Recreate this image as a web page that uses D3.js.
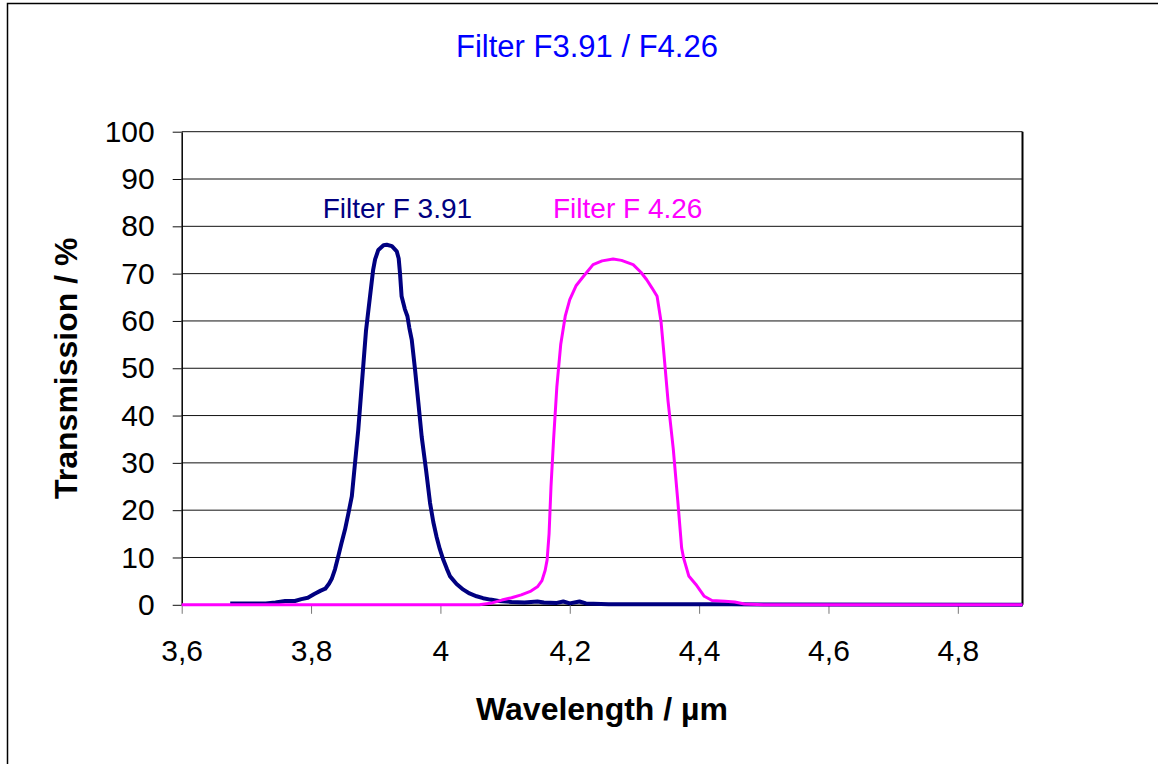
<!DOCTYPE html>
<html>
<head>
<meta charset="utf-8">
<script src="https://cdn.jsdelivr.net/npm/d3@7"></script>
<style>
  body { margin: 0; background: #fff; }
  svg { display: block; font-family: "Liberation Sans", Arial, sans-serif; }
</style>
</head>
<body>
<div id="chart"></div>
<script>
// Filter F 3.91 (navy) - wavelength in µm, transmission in %
const blueWl = [3.675, 3.70, 3.73, 3.745, 3.76, 3.775, 3.785, 3.795, 3.805, 3.815, 3.822, 3.828,
  3.832, 3.837, 3.842, 3.847, 3.8525, 3.858, 3.863, 3.868, 3.873, 3.877, 3.881, 3.885, 3.891,
  3.896, 3.899, 3.904, 3.912, 3.917, 3.925, 3.9325, 3.9355, 3.9375, 3.940, 3.945, 3.949, 3.952,
  3.9557, 3.9608, 3.966, 3.971, 3.9778, 3.984, 3.989, 3.994, 3.999, 4.0045, 4.01, 4.015, 4.025,
  4.0355, 4.045, 4.056, 4.066, 4.077, 4.09, 4.11, 4.13, 4.15, 4.16, 4.18, 4.19, 4.20, 4.215,
  4.225, 4.26, 4.30, 4.35, 4.45, 4.9];
const blueT = [0.3, 0.3, 0.3, 0.5, 0.8, 0.8, 1.2, 1.5, 2.3, 3.0, 3.4, 4.5,
  5.5, 7.5, 10.2, 13, 15.9, 19.5, 22.9, 30, 37, 44, 51, 58, 65,
  70.8, 73, 75, 76, 76.1, 75.8, 74.7, 73.2, 70.1, 65.2, 62.5, 61, 58.5,
  56, 49.7, 42.6, 35.6, 28.5, 21.5, 17.5, 14.4, 11.8, 9.5, 7.6, 6, 4.4,
  3.2, 2.4, 1.8, 1.4, 1.1, 0.8, 0.6, 0.5, 0.7, 0.5, 0.4, 0.7, 0.3, 0.7,
  0.3, 0.1, 0.1, 0.1, 0.1, 0];

// Filter F 4.26 (magenta)
const pinkWl = [3.6, 4.06, 4.08, 4.095, 4.11, 4.125, 4.14, 4.15, 4.157, 4.162, 4.165, 4.168,
  4.171, 4.175, 4.18, 4.186, 4.193, 4.2, 4.21, 4.221, 4.236, 4.25, 4.267, 4.28, 4.298, 4.31,
  4.319, 4.327, 4.335, 4.341, 4.345, 4.352, 4.36, 4.367, 4.373, 4.376, 4.384, 4.395, 4.408,
  4.42, 4.44, 4.455, 4.47, 4.5, 4.9];
const pinkT = [0, 0, 0.4, 1.0, 1.5, 2.1, 2.9, 3.8, 5.1, 7.3, 9.5, 15,
  25, 35, 46, 55, 61, 64.5, 67.5, 69.4, 71.9, 72.7, 73.1, 72.8, 71.9, 70.3,
  68.7, 67, 65.2, 60, 54, 43, 33, 22, 12, 9.9, 6.1, 4.3, 1.8,
  0.9, 0.75, 0.6, 0.15, 0, 0];

const xTicks = [3.6, 3.8, 4.0, 4.2, 4.4, 4.6, 4.8];
const yTicks = [0, 10, 20, 30, 40, 50, 60, 70, 80, 90, 100];

const width = 1158;
const height = 764;
const plot = { left: 181.7, right: 1022.5, top: 131.7, bottom: 604.8 };

const svg = d3.select("#chart")
  .append("svg")
  .attr("width", width)
  .attr("height", height);

// outer chart frame
svg.append("rect")
  .attr("x", 7.5)
  .attr("y", 3.5)
  .attr("width", 1200)
  .attr("height", 800)
  .attr("fill", "none")
  .attr("stroke", "#000")
  .attr("stroke-width", 1.5);

const x = d3.scaleLinear().domain([3.6, 4.9]).range([plot.left, plot.right]);
const y = d3.scaleLinear().domain([0, 100]).range([plot.bottom, plot.top]);

// horizontal gridlines
svg.append("g")
  .selectAll("line")
  .data(yTicks.filter(d => d > 0))
  .join("line")
  .attr("x1", plot.left)
  .attr("x2", plot.right)
  .attr("y1", d => y(d))
  .attr("y2", d => y(d))
  .attr("stroke", "#111")
  .attr("stroke-width", 1);

// right border of plot area
svg.append("line")
  .attr("x1", plot.right)
  .attr("x2", plot.right)
  .attr("y1", plot.top)
  .attr("y2", plot.bottom)
  .attr("stroke", "#000")
  .attr("stroke-width", 2);

// y axis
const yAxis = svg.append("g")
  .attr("transform", `translate(${plot.left},0)`)
  .call(d3.axisLeft(y).tickValues(yTicks).tickSize(9).tickSizeOuter(0).tickPadding(18));
yAxis.select(".domain").attr("stroke", "#000").attr("stroke-width", 1.5);
yAxis.selectAll(".tick line").attr("stroke", "#111");
yAxis.selectAll("text")
  .attr("font-size", "30px")
  .attr("font-family", "'Liberation Sans', Arial, sans-serif")
  .attr("fill", "#000");

// x axis
const xAxis = svg.append("g")
  .attr("transform", `translate(0,${plot.bottom})`)
  .call(d3.axisBottom(x)
    .tickValues(xTicks)
    .tickSize(9)
    .tickSizeOuter(0)
    .tickPadding(26)
    .tickFormat(d => String(+d.toFixed(1)).replace(".", ",")));
xAxis.select(".domain").attr("stroke", "#000").attr("stroke-width", 1.5);
xAxis.selectAll(".tick line").attr("stroke", "#777");
xAxis.selectAll("text")
  .attr("font-size", "30px")
  .attr("font-family", "'Liberation Sans', Arial, sans-serif")
  .attr("fill", "#000");

const line = d3.line()
  .x(d => x(d[0]))
  .y(d => y(d[1]));

// navy curve first, magenta drawn on top
svg.append("path")
  .datum(d3.zip(blueWl, blueT))
  .attr("d", line)
  .attr("fill", "none")
  .attr("stroke", "#000080")
  .attr("stroke-width", 4)
  .attr("stroke-linejoin", "round");

svg.append("path")
  .datum(d3.zip(pinkWl, pinkT))
  .attr("d", line)
  .attr("fill", "none")
  .attr("stroke", "#FF00FF")
  .attr("stroke-width", 3)
  .attr("stroke-linejoin", "round");

// series labels
svg.append("text")
  .attr("x", 322.7)
  .attr("y", 218)
  .attr("font-size", "28px")
  .attr("fill", "#000080")
  .text("Filter F 3.91");

svg.append("text")
  .attr("x", 553)
  .attr("y", 218)
  .attr("font-size", "28px")
  .attr("fill", "#FF00FF")
  .text("Filter F 4.26");

// chart title
svg.append("text")
  .attr("x", 587)
  .attr("y", 56.5)
  .attr("text-anchor", "middle")
  .attr("font-size", "31px")
  .attr("fill", "#0000FF")
  .text("Filter F3.91 / F4.26");

// axis titles
svg.append("text")
  .attr("x", 602)
  .attr("y", 720)
  .attr("text-anchor", "middle")
  .attr("font-size", "32px")
  .attr("font-weight", "bold")
  .text("Wavelength / µm");

svg.append("text")
  .attr("transform", `translate(77,${(plot.top + plot.bottom) / 2}) rotate(-90)`)
  .attr("text-anchor", "middle")
  .attr("font-size", "32px")
  .attr("font-weight", "bold")
  .text("Transmission / %");
</script>
</body>
</html>
